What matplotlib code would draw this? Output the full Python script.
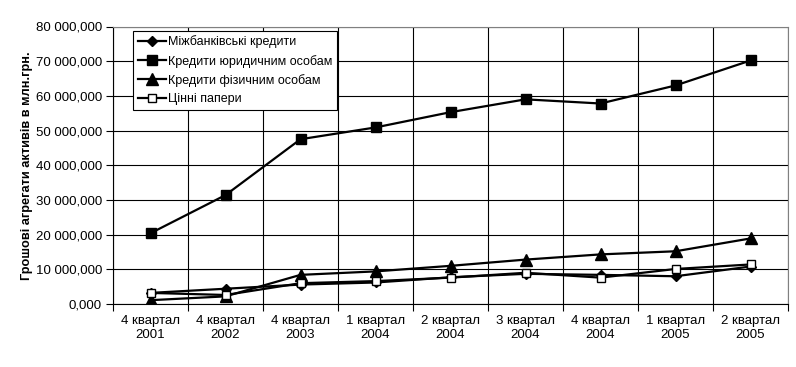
import matplotlib
matplotlib.use("Agg")
import matplotlib.pyplot as plt
from matplotlib.ticker import FuncFormatter, MultipleLocator
from matplotlib import font_manager

categories = ["4 квартал\n2001", "4 квартал\n2002", "4 квартал\n2003", "1 квартал\n2004",
              "2 квартал\n2004", "3 квартал\n2004", "4 квартал\n2004", "1 квартал\n2005",
              "2 квартал\n2005"]
interbank = [3200, 4400, 5600, 6200, 7700, 8700, 8400, 8000, 10800]
legal = [20400, 31400, 47500, 50900, 55300, 59000, 57800, 63000, 70200]
individuals = [1100, 2200, 8400, 9400, 11000, 12800, 14300, 15200, 18900]
securities = [3200, 2600, 6000, 6600, 7600, 9000, 7600, 10100, 11400]

names = sorted(set(f.name for f in font_manager.fontManager.ttflist))
narrow = "Liberation Sans Narrow" if "Liberation Sans Narrow" in names else "Liberation Sans"

plt.rcParams['font.family'] = ['Liberation Sans', 'DejaVu Sans']

fig = plt.figure(figsize=(7.96, 3.67), dpi=100)
ax = fig.add_axes([113/796, 1-304/367, (788-113)/796, (304-26.5)/367])

x = list(range(len(categories)))
ax.plot(x, interbank, color='black', lw=1.6, marker='D', ms=5,
        mfc='black', mec='black', label='Міжбанківські кредити', zorder=5)
ax.plot(x, legal, color='black', lw=1.6, marker='s', ms=7,
        mfc='black', mec='black', label='Кредити юридичним особам', zorder=5)
ax.plot(x, individuals, color='black', lw=1.6, marker='^', ms=8,
        mfc='black', mec='black', label='Кредити фізичним особам', zorder=5)
ax.plot(x, securities, color='black', lw=1.6, marker='s', ms=5.5,
        mfc='white', mec='black', mew=1, label='Цінні папери', zorder=6)

ax.set_xlim(-0.5, len(categories)-0.5)
ax.set_ylim(0, 80000)
ax.yaxis.set_major_locator(MultipleLocator(10000))
ax.yaxis.set_major_formatter(FuncFormatter(lambda v, p: f"{v:,.3f}".replace(",", " ").replace(".", ",")))

ax.set_xticks([i-0.5 for i in range(len(categories)+1)])
ax.set_xticklabels([])
ax.set_xticks(x, minor=True)
ax.set_xticklabels(categories, minor=True, fontfamily=[narrow, 'DejaVu Sans'], fontsize=9.5)
ax.tick_params(axis='x', which='minor', length=0, pad=8)
ax.tick_params(axis='x', which='major', length=5, direction='out', color='black')
ax.tick_params(axis='y', length=5, direction='out', labelsize=9.5, pad=3)

ax.grid(True, which='major', color='black', lw=0.8)
ax.set_axisbelow(True)
for s in ['top', 'right']:
    ax.spines[s].set_color('#808080')
    ax.spines[s].set_linewidth(0.8)
for s in ['left', 'bottom']:
    ax.spines[s].set_color('black')
    ax.spines[s].set_linewidth(0.8)

ax.set_ylabel('Грошові агрегати активів в млн.грн.', fontsize=9.2, fontweight='bold',
              fontfamily=[narrow, 'DejaVu Sans'], labelpad=2)

leg = ax.legend(loc='upper left', bbox_to_anchor=(20/675, 1-4/277.5), fontsize=9,
                frameon=True, fancybox=False, edgecolor='black', framealpha=1,
                borderpad=0.4, labelspacing=0.5, handlelength=2.2, handletextpad=0.2,
                borderaxespad=0)
leg.get_frame().set_linewidth(0.8)

fig.savefig("out.png", dpi=100)
